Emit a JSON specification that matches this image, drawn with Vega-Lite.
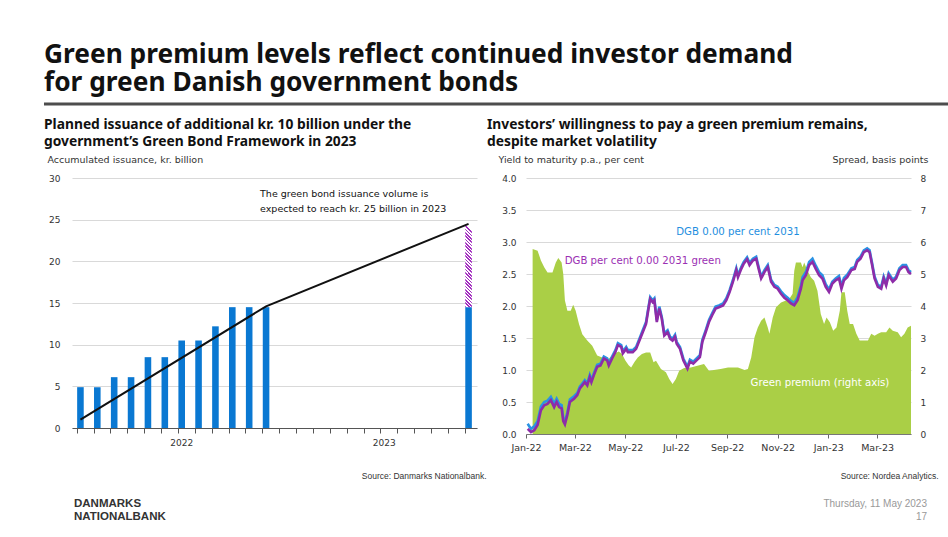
{
  "$schema": "https://vega.github.io/schema/vega-lite/v6.json",
  "background": "white",
  "padding": {"left": 42, "top": 41, "right": 0, "bottom": 0},
  "spacing": 11,
  "config": {
    "font": "DejaVu Sans",
    "view": {"stroke": null},
    "axis": {"labelFont": "DejaVu Sans", "labelColor": "#333", "titleFont": "DejaVu Sans", "titleColor": "#333", "titleFontWeight": "normal"},
    "title": {"font": "Noto Sans", "color": "#111"}
  },
  "vconcat": [
    {
      "width": 878,
      "height": 1,
      "title": {
        "text": ["Green premium levels reflect continued investor demand", "for green Danish government bonds"],
        "anchor": "start", "frame": "group", "dx": -28, "fontSize": 26.3, "fontWeight": "bold", "lineHeight": 28.5, "offset": 6
      },
      "data": {"values": [{}]},
      "mark": {"type": "rule", "color": "#4d4d4d", "strokeWidth": 3},
      "encoding": {
        "x": {"datum": -0.0319, "scale": {"domain": [0, 1]}, "axis": null},
        "x2": {"datum": 1},
        "y": {"datum": 0, "scale": {"domain": [0, 1]}, "axis": null}
      }
    },
    {
      "spacing": 1,
      "hconcat": [
        {
          "width": 405,
          "height": 250,
          "title": {
            "text": ["Planned issuance of additional kr. 10 billion under the", "government’s Green Bond Framework in 2023"],
            "anchor": "start", "fontSize": 13.8, "fontWeight": "bold", "lineHeight": 17.5, "offset": 5, "dx": -3
          },
          "encoding": {
            "x": {
              "field": "m", "type": "ordinal",
              "scale": {
                "type": "band",
                "domain": ["2022-01","2022-02","2022-03","2022-04","2022-05","2022-06","2022-07","2022-08","2022-09","2022-10","2022-11","2022-12",
                           "2023-01","2023-02","2023-03","2023-04","2023-05","2023-06","2023-07","2023-08","2023-09","2023-10","2023-11","2023-12"],
                "paddingInner": 0.61, "paddingOuter": 0.305
              },
              "axis": {
                "title": "Source: Danmarks Nationalbank.", "titleFont": "Liberation Sans", "titleFontSize": 8.5,
                "titleAlign": "right", "titleAnchor": null, "titleX": 414, "titleY": 50, "titleBaseline": "alphabetic",
                "bandPosition": 0,
                "labelExpr": "datum.value == '2022-07' ? '2022' : datum.value == '2023-07' ? '2023' : ''",
                "labelOverlap": false, "labelAngle": 0, "labelFontSize": 9, "labelPadding": 5,
                "tickSize": 5, "tickColor": "#555", "domainColor": "#555", "grid": false
              }
            }
          },
          "layer": [
            {
              "data": {"values": [
                {"m": "2022-01", "v": 4.9}, {"m": "2022-02", "v": 4.9}, {"m": "2022-03", "v": 6.1},
                {"m": "2022-04", "v": 6.1}, {"m": "2022-05", "v": 8.5}, {"m": "2022-06", "v": 8.5},
                {"m": "2022-07", "v": 10.5}, {"m": "2022-08", "v": 10.5}, {"m": "2022-09", "v": 12.2},
                {"m": "2022-10", "v": 14.5}, {"m": "2022-11", "v": 14.5}, {"m": "2022-12", "v": 14.5},
                {"m": "2023-12", "v": 14.5}
              ]},
              "mark": {"type": "bar", "color": "#0A78D2"},
              "encoding": {
                "y": {
                  "field": "v", "type": "quantitative", "scale": {"domain": [0, 30]},
                  "axis": {
                    "title": "Accumulated issuance, kr. billion", "titleAngle": 0, "titleAlign": "left",
                    "titleX": -25, "titleY": -16, "titleBaseline": "alphabetic", "titleFontSize": 9.5,
                    "values": [0, 5, 10, 15, 20, 25, 30], "grid": true, "gridColor": "#d9d9d9", "gridWidth": 1.2,
                    "domain": false, "ticks": false, "labelPadding": 12, "labelFontSize": 9
                  }
                }
              }
            },
            {
              "data": {"values": [{"m": "2023-12", "from": 14.5, "to": 24.5}]},
              "mark": {
                "type": "bar",
                "fill": {
                  "gradient": "linear", "x1": 0, "y1": 1, "x2": 0.079, "y2": 0,
                  "stops": [
                    {"offset": 0, "color": "#A22CC0"}, {"offset": 0.02, "color": "#A22CC0"}, {"offset": 0.02, "color": "#ffffff"}, {"offset": 0.04, "color": "#ffffff"},
                    {"offset": 0.04, "color": "#A22CC0"}, {"offset": 0.06, "color": "#A22CC0"}, {"offset": 0.06, "color": "#ffffff"}, {"offset": 0.08, "color": "#ffffff"},
                    {"offset": 0.08, "color": "#A22CC0"}, {"offset": 0.10, "color": "#A22CC0"}, {"offset": 0.10, "color": "#ffffff"}, {"offset": 0.12, "color": "#ffffff"},
                    {"offset": 0.12, "color": "#A22CC0"}, {"offset": 0.14, "color": "#A22CC0"}, {"offset": 0.14, "color": "#ffffff"}, {"offset": 0.16, "color": "#ffffff"},
                    {"offset": 0.16, "color": "#A22CC0"}, {"offset": 0.18, "color": "#A22CC0"}, {"offset": 0.18, "color": "#ffffff"}, {"offset": 0.20, "color": "#ffffff"},
                    {"offset": 0.20, "color": "#A22CC0"}, {"offset": 0.22, "color": "#A22CC0"}, {"offset": 0.22, "color": "#ffffff"}, {"offset": 0.24, "color": "#ffffff"},
                    {"offset": 0.24, "color": "#A22CC0"}, {"offset": 0.26, "color": "#A22CC0"}, {"offset": 0.26, "color": "#ffffff"}, {"offset": 0.28, "color": "#ffffff"},
                    {"offset": 0.28, "color": "#A22CC0"}, {"offset": 0.30, "color": "#A22CC0"}, {"offset": 0.30, "color": "#ffffff"}, {"offset": 0.32, "color": "#ffffff"},
                    {"offset": 0.32, "color": "#A22CC0"}, {"offset": 0.34, "color": "#A22CC0"}, {"offset": 0.34, "color": "#ffffff"}, {"offset": 0.36, "color": "#ffffff"},
                    {"offset": 0.36, "color": "#A22CC0"}, {"offset": 0.38, "color": "#A22CC0"}, {"offset": 0.38, "color": "#ffffff"}, {"offset": 0.40, "color": "#ffffff"},
                    {"offset": 0.40, "color": "#A22CC0"}, {"offset": 0.42, "color": "#A22CC0"}, {"offset": 0.42, "color": "#ffffff"}, {"offset": 0.44, "color": "#ffffff"},
                    {"offset": 0.44, "color": "#A22CC0"}, {"offset": 0.46, "color": "#A22CC0"}, {"offset": 0.46, "color": "#ffffff"}, {"offset": 0.48, "color": "#ffffff"},
                    {"offset": 0.48, "color": "#A22CC0"}, {"offset": 0.50, "color": "#A22CC0"}, {"offset": 0.50, "color": "#ffffff"}, {"offset": 0.52, "color": "#ffffff"},
                    {"offset": 0.52, "color": "#A22CC0"}, {"offset": 0.54, "color": "#A22CC0"}, {"offset": 0.54, "color": "#ffffff"}, {"offset": 0.56, "color": "#ffffff"},
                    {"offset": 0.56, "color": "#A22CC0"}, {"offset": 0.58, "color": "#A22CC0"}, {"offset": 0.58, "color": "#ffffff"}, {"offset": 0.60, "color": "#ffffff"},
                    {"offset": 0.60, "color": "#A22CC0"}, {"offset": 0.62, "color": "#A22CC0"}, {"offset": 0.62, "color": "#ffffff"}, {"offset": 0.64, "color": "#ffffff"},
                    {"offset": 0.64, "color": "#A22CC0"}, {"offset": 0.66, "color": "#A22CC0"}, {"offset": 0.66, "color": "#ffffff"}, {"offset": 0.68, "color": "#ffffff"},
                    {"offset": 0.68, "color": "#A22CC0"}, {"offset": 0.70, "color": "#A22CC0"}, {"offset": 0.70, "color": "#ffffff"}, {"offset": 0.72, "color": "#ffffff"},
                    {"offset": 0.72, "color": "#A22CC0"}, {"offset": 0.74, "color": "#A22CC0"}, {"offset": 0.74, "color": "#ffffff"}, {"offset": 0.76, "color": "#ffffff"},
                    {"offset": 0.76, "color": "#A22CC0"}, {"offset": 0.78, "color": "#A22CC0"}, {"offset": 0.78, "color": "#ffffff"}, {"offset": 0.80, "color": "#ffffff"},
                    {"offset": 0.80, "color": "#A22CC0"}, {"offset": 0.82, "color": "#A22CC0"}, {"offset": 0.82, "color": "#ffffff"}, {"offset": 0.84, "color": "#ffffff"},
                    {"offset": 0.84, "color": "#A22CC0"}, {"offset": 0.86, "color": "#A22CC0"}, {"offset": 0.86, "color": "#ffffff"}, {"offset": 0.88, "color": "#ffffff"},
                    {"offset": 0.88, "color": "#A22CC0"}, {"offset": 0.90, "color": "#A22CC0"}, {"offset": 0.90, "color": "#ffffff"}, {"offset": 0.92, "color": "#ffffff"},
                    {"offset": 0.92, "color": "#A22CC0"}, {"offset": 0.94, "color": "#A22CC0"}, {"offset": 0.94, "color": "#ffffff"}, {"offset": 0.96, "color": "#ffffff"},
                    {"offset": 0.96, "color": "#A22CC0"}, {"offset": 0.98, "color": "#A22CC0"}, {"offset": 0.98, "color": "#ffffff"}, {"offset": 1, "color": "#ffffff"}
                  ]
                }
              },
              "encoding": {
                "y": {"field": "from", "type": "quantitative"},
                "y2": {"field": "to"}
              }
            },
            {
              "data": {"values": [
                {"m": "2022-01", "v": 1.0}, {"m": "2022-12", "v": 14.6}, {"m": "2023-12", "v": 24.5}
              ]},
              "mark": {"type": "line", "color": "#111", "strokeWidth": 2},
              "encoding": {"y": {"field": "v", "type": "quantitative"}}
            },
            {
              "data": {"values": [
                {"m": "2022-12", "v": 28.7, "t": "The green bond issuance volume is"},
                {"m": "2022-12", "v": 26.9, "t": "expected to reach kr. 25 billion in 2023"}
              ]},
              "mark": {"type": "text", "align": "left", "baseline": "top", "dx": -6, "fontSize": 9.5, "color": "#111"},
              "encoding": {
                "y": {"field": "v", "type": "quantitative"},
                "text": {"field": "t"}
              }
            }
          ]
        },
        {
          "width": 385,
          "height": 256,
          "title": {
            "text": ["Investors’ willingness to pay a green premium remains,", "despite market volatility"],
            "anchor": "start", "fontSize": 13.8, "fontWeight": "bold", "lineHeight": 17.5, "offset": 5, "dx": -11
          },
          "resolve": {"scale": {"y": "independent"}},
          "encoding": {
            "x": {
              "field": "d", "type": "temporal",
              "scale": {"type": "utc", "domain": [{"year": 2022, "month": 1, "date": 1, "utc": true}, {"year": 2023, "month": 4, "date": 11, "utc": true}]},
              "axis": {
                "format": "%b-%y", "tickCount": {"interval": "month", "step": 2},
                "title": "Source: Nordea Analytics.", "titleFont": "Liberation Sans", "titleFontSize": 8.5,
                "titleAlign": "right", "titleAnchor": null, "titleX": 412, "titleY": 44, "titleBaseline": "alphabetic",
                "labelFontSize": 9.5, "labelPadding": 4, "labelOverlap": false, "labelFlush": false,
                "tickSize": 4, "tickColor": "#666", "domainColor": "#777", "grid": false
              }
            }
          },
          "layer": [
            {
              "data": {"values": [
                {"d": "2022-01-09", "bp": 5.78}, {"d": "2022-01-15", "bp": 5.73}, {"d": "2022-01-19", "bp": 5.42},
                {"d": "2022-01-23", "bp": 5.21}, {"d": "2022-01-27", "bp": 5.05}, {"d": "2022-02-02", "bp": 5.05},
                {"d": "2022-02-06", "bp": 5.36}, {"d": "2022-02-09", "bp": 5.5}, {"d": "2022-02-13", "bp": 5.36},
                {"d": "2022-02-15", "bp": 5.0}, {"d": "2022-02-17", "bp": 4.17}, {"d": "2022-02-20", "bp": 3.85},
                {"d": "2022-02-24", "bp": 3.85}, {"d": "2022-02-27", "bp": 4.04}, {"d": "2022-03-02", "bp": 3.85},
                {"d": "2022-03-06", "bp": 3.44}, {"d": "2022-03-10", "bp": 3.12}, {"d": "2022-03-16", "bp": 2.92},
                {"d": "2022-03-22", "bp": 2.76}, {"d": "2022-03-28", "bp": 2.45}, {"d": "2022-04-03", "bp": 2.39},
                {"d": "2022-04-11", "bp": 2.35}, {"d": "2022-04-17", "bp": 2.5}, {"d": "2022-04-23", "bp": 2.58},
                {"d": "2022-04-27", "bp": 2.5}, {"d": "2022-05-01", "bp": 2.3}, {"d": "2022-05-05", "bp": 2.15},
                {"d": "2022-05-08", "bp": 2.08}, {"d": "2022-05-12", "bp": 2.25}, {"d": "2022-05-16", "bp": 2.39},
                {"d": "2022-05-21", "bp": 2.5}, {"d": "2022-05-26", "bp": 2.55}, {"d": "2022-05-31", "bp": 2.55},
                {"d": "2022-06-04", "bp": 2.24}, {"d": "2022-06-07", "bp": 2.29}, {"d": "2022-06-13", "bp": 2.03},
                {"d": "2022-06-19", "bp": 1.93}, {"d": "2022-06-23", "bp": 1.72}, {"d": "2022-06-27", "bp": 1.56},
                {"d": "2022-07-01", "bp": 1.72}, {"d": "2022-07-05", "bp": 1.98}, {"d": "2022-07-11", "bp": 2.06},
                {"d": "2022-07-19", "bp": 2.08}, {"d": "2022-07-27", "bp": 2.13}, {"d": "2022-08-04", "bp": 2.19},
                {"d": "2022-08-10", "bp": 1.98}, {"d": "2022-08-16", "bp": 2.0}, {"d": "2022-08-24", "bp": 2.03},
                {"d": "2022-09-02", "bp": 2.08}, {"d": "2022-09-14", "bp": 2.08}, {"d": "2022-09-22", "bp": 2.0},
                {"d": "2022-09-26", "bp": 2.03}, {"d": "2022-09-30", "bp": 2.39}, {"d": "2022-10-04", "bp": 3.02},
                {"d": "2022-10-08", "bp": 3.33}, {"d": "2022-10-12", "bp": 3.54}, {"d": "2022-10-16", "bp": 3.64},
                {"d": "2022-10-20", "bp": 3.33}, {"d": "2022-10-22", "bp": 3.13}, {"d": "2022-10-26", "bp": 3.64},
                {"d": "2022-10-30", "bp": 3.96}, {"d": "2022-11-05", "bp": 4.11}, {"d": "2022-11-11", "bp": 4.17},
                {"d": "2022-11-15", "bp": 4.22}, {"d": "2022-11-19", "bp": 4.38}, {"d": "2022-11-21", "bp": 5.1},
                {"d": "2022-11-23", "bp": 5.36}, {"d": "2022-11-29", "bp": 5.36}, {"d": "2022-12-01", "bp": 5.21},
                {"d": "2022-12-03", "bp": 5.36}, {"d": "2022-12-07", "bp": 5.1}, {"d": "2022-12-11", "bp": 4.9},
                {"d": "2022-12-15", "bp": 4.79}, {"d": "2022-12-19", "bp": 4.48}, {"d": "2022-12-23", "bp": 3.75},
                {"d": "2022-12-27", "bp": 3.44}, {"d": "2022-12-30", "bp": 3.64}, {"d": "2023-01-03", "bp": 3.49},
                {"d": "2023-01-07", "bp": 3.23}, {"d": "2023-01-11", "bp": 3.33}, {"d": "2023-01-15", "bp": 3.85},
                {"d": "2023-01-17", "bp": 4.43}, {"d": "2023-01-21", "bp": 4.43}, {"d": "2023-01-24", "bp": 3.85},
                {"d": "2023-01-27", "bp": 3.44}, {"d": "2023-01-31", "bp": 3.44}, {"d": "2023-02-04", "bp": 3.13},
                {"d": "2023-02-08", "bp": 2.92}, {"d": "2023-02-18", "bp": 2.92}, {"d": "2023-02-22", "bp": 3.13},
                {"d": "2023-02-26", "bp": 3.07}, {"d": "2023-03-02", "bp": 3.13}, {"d": "2023-03-06", "bp": 3.18},
                {"d": "2023-03-12", "bp": 3.18}, {"d": "2023-03-16", "bp": 3.33}, {"d": "2023-03-20", "bp": 3.23},
                {"d": "2023-03-26", "bp": 3.18}, {"d": "2023-03-30", "bp": 3.02}, {"d": "2023-04-03", "bp": 3.13},
                {"d": "2023-04-07", "bp": 3.33}, {"d": "2023-04-11", "bp": 3.38}
              ]},
              "mark": {"type": "area", "color": "#AACF46", "opacity": 1},
              "encoding": {
                "y": {
                  "field": "bp", "type": "quantitative", "scale": {"domain": [0, 8]},
                  "axis": {
                    "orient": "right", "title": "Spread, basis points", "titleAngle": 0, "titleAlign": "right",
                    "titleX": 17, "titleY": -16, "titleBaseline": "alphabetic", "titleFontSize": 9.5,
                    "values": [0, 1, 2, 3, 4, 5, 6, 7, 8], "format": "d", "grid": false, "domain": false,
                    "ticks": false, "labelPadding": 9, "labelFontSize": 9
                  }
                }
              }
            },
            {
              "data": {"values": [
                {"d": "2022-01-03", "green": 0.08, "dgb": 0.16}, {"d": "2022-01-07", "green": 0.03, "dgb": 0.08},
                {"d": "2022-01-11", "green": 0.06, "dgb": 0.12}, {"d": "2022-01-15", "green": 0.14, "dgb": 0.2},
                {"d": "2022-01-19", "green": 0.37, "dgb": 0.43}, {"d": "2022-01-23", "green": 0.45, "dgb": 0.5},
                {"d": "2022-01-27", "green": 0.47, "dgb": 0.52}, {"d": "2022-01-31", "green": 0.53, "dgb": 0.58},
                {"d": "2022-02-04", "green": 0.42, "dgb": 0.47}, {"d": "2022-02-07", "green": 0.5, "dgb": 0.55},
                {"d": "2022-02-10", "green": 0.42, "dgb": 0.47}, {"d": "2022-02-13", "green": 0.4, "dgb": 0.45},
                {"d": "2022-02-15", "green": 0.2, "dgb": 0.25}, {"d": "2022-02-17", "green": 0.15, "dgb": 0.19},
                {"d": "2022-02-20", "green": 0.3, "dgb": 0.34}, {"d": "2022-02-23", "green": 0.5, "dgb": 0.54},
                {"d": "2022-02-28", "green": 0.55, "dgb": 0.59}, {"d": "2022-03-04", "green": 0.61, "dgb": 0.64},
                {"d": "2022-03-07", "green": 0.71, "dgb": 0.74}, {"d": "2022-03-10", "green": 0.76, "dgb": 0.79},
                {"d": "2022-03-13", "green": 0.81, "dgb": 0.84}, {"d": "2022-03-16", "green": 0.76, "dgb": 0.79},
                {"d": "2022-03-19", "green": 0.89, "dgb": 0.92}, {"d": "2022-03-21", "green": 0.81, "dgb": 0.84},
                {"d": "2022-03-24", "green": 0.92, "dgb": 0.95}, {"d": "2022-03-28", "green": 1.05, "dgb": 1.08},
                {"d": "2022-04-01", "green": 1.07, "dgb": 1.1}, {"d": "2022-04-05", "green": 1.18, "dgb": 1.21},
                {"d": "2022-04-09", "green": 1.15, "dgb": 1.18}, {"d": "2022-04-11", "green": 1.07, "dgb": 1.1},
                {"d": "2022-04-15", "green": 1.18, "dgb": 1.21}, {"d": "2022-04-19", "green": 1.28, "dgb": 1.31},
                {"d": "2022-04-22", "green": 1.39, "dgb": 1.42}, {"d": "2022-04-26", "green": 1.36, "dgb": 1.39},
                {"d": "2022-04-28", "green": 1.26, "dgb": 1.29}, {"d": "2022-05-02", "green": 1.33, "dgb": 1.36},
                {"d": "2022-05-04", "green": 1.28, "dgb": 1.31}, {"d": "2022-05-10", "green": 1.28, "dgb": 1.31},
                {"d": "2022-05-14", "green": 1.33, "dgb": 1.36}, {"d": "2022-05-18", "green": 1.46, "dgb": 1.49},
                {"d": "2022-05-22", "green": 1.59, "dgb": 1.62}, {"d": "2022-05-26", "green": 1.72, "dgb": 1.75},
                {"d": "2022-05-29", "green": 1.96, "dgb": 1.99}, {"d": "2022-05-31", "green": 2.11, "dgb": 2.14},
                {"d": "2022-06-03", "green": 2.06, "dgb": 2.09}, {"d": "2022-06-05", "green": 2.09, "dgb": 2.12},
                {"d": "2022-06-08", "green": 1.75, "dgb": 1.78}, {"d": "2022-06-11", "green": 1.96, "dgb": 1.99},
                {"d": "2022-06-14", "green": 1.8, "dgb": 1.83}, {"d": "2022-06-17", "green": 1.54, "dgb": 1.57},
                {"d": "2022-06-21", "green": 1.59, "dgb": 1.62}, {"d": "2022-06-24", "green": 1.49, "dgb": 1.52},
                {"d": "2022-06-27", "green": 1.46, "dgb": 1.49}, {"d": "2022-06-30", "green": 1.52, "dgb": 1.55},
                {"d": "2022-07-02", "green": 1.41, "dgb": 1.44}, {"d": "2022-07-06", "green": 1.33, "dgb": 1.36},
                {"d": "2022-07-10", "green": 1.15, "dgb": 1.18}, {"d": "2022-07-15", "green": 1.02, "dgb": 1.05},
                {"d": "2022-07-18", "green": 1.13, "dgb": 1.16}, {"d": "2022-07-22", "green": 1.1, "dgb": 1.13},
                {"d": "2022-07-26", "green": 1.15, "dgb": 1.18}, {"d": "2022-07-30", "green": 1.2, "dgb": 1.23},
                {"d": "2022-08-02", "green": 1.44, "dgb": 1.47}, {"d": "2022-08-06", "green": 1.59, "dgb": 1.62},
                {"d": "2022-08-10", "green": 1.75, "dgb": 1.78}, {"d": "2022-08-14", "green": 1.86, "dgb": 1.89},
                {"d": "2022-08-18", "green": 1.96, "dgb": 1.99}, {"d": "2022-08-22", "green": 1.98, "dgb": 2.01},
                {"d": "2022-08-27", "green": 2.01, "dgb": 2.04}, {"d": "2022-08-31", "green": 2.09, "dgb": 2.12},
                {"d": "2022-09-04", "green": 2.22, "dgb": 2.25}, {"d": "2022-09-08", "green": 2.38, "dgb": 2.41},
                {"d": "2022-09-12", "green": 2.56, "dgb": 2.59}, {"d": "2022-09-14", "green": 2.45, "dgb": 2.48},
                {"d": "2022-09-18", "green": 2.58, "dgb": 2.61}, {"d": "2022-09-21", "green": 2.66, "dgb": 2.69},
                {"d": "2022-09-25", "green": 2.73, "dgb": 2.76}, {"d": "2022-09-28", "green": 2.64, "dgb": 2.67},
                {"d": "2022-10-02", "green": 2.71, "dgb": 2.74}, {"d": "2022-10-06", "green": 2.74, "dgb": 2.77},
                {"d": "2022-10-09", "green": 2.58, "dgb": 2.61}, {"d": "2022-10-12", "green": 2.43, "dgb": 2.46},
                {"d": "2022-10-16", "green": 2.53, "dgb": 2.56}, {"d": "2022-10-20", "green": 2.61, "dgb": 2.64},
                {"d": "2022-10-24", "green": 2.38, "dgb": 2.41}, {"d": "2022-10-28", "green": 2.3, "dgb": 2.33},
                {"d": "2022-11-01", "green": 2.27, "dgb": 2.3}, {"d": "2022-11-05", "green": 2.19, "dgb": 2.23},
                {"d": "2022-11-09", "green": 2.13, "dgb": 2.17}, {"d": "2022-11-13", "green": 2.09, "dgb": 2.13},
                {"d": "2022-11-17", "green": 2.04, "dgb": 2.08}, {"d": "2022-11-21", "green": 2.01, "dgb": 2.05},
                {"d": "2022-11-25", "green": 2.09, "dgb": 2.14}, {"d": "2022-11-29", "green": 2.27, "dgb": 2.32},
                {"d": "2022-12-01", "green": 2.4, "dgb": 2.45}, {"d": "2022-12-05", "green": 2.48, "dgb": 2.53},
                {"d": "2022-12-09", "green": 2.64, "dgb": 2.69}, {"d": "2022-12-13", "green": 2.69, "dgb": 2.74},
                {"d": "2022-12-17", "green": 2.58, "dgb": 2.63}, {"d": "2022-12-21", "green": 2.48, "dgb": 2.53},
                {"d": "2022-12-25", "green": 2.43, "dgb": 2.48}, {"d": "2022-12-29", "green": 2.3, "dgb": 2.34},
                {"d": "2023-01-02", "green": 2.22, "dgb": 2.26}, {"d": "2023-01-06", "green": 2.35, "dgb": 2.38},
                {"d": "2023-01-10", "green": 2.4, "dgb": 2.43}, {"d": "2023-01-14", "green": 2.43, "dgb": 2.47},
                {"d": "2023-01-17", "green": 2.27, "dgb": 2.31}, {"d": "2023-01-20", "green": 2.4, "dgb": 2.44},
                {"d": "2023-01-24", "green": 2.45, "dgb": 2.49}, {"d": "2023-01-29", "green": 2.56, "dgb": 2.59},
                {"d": "2023-02-02", "green": 2.58, "dgb": 2.61}, {"d": "2023-02-05", "green": 2.69, "dgb": 2.72},
                {"d": "2023-02-09", "green": 2.74, "dgb": 2.77}, {"d": "2023-02-13", "green": 2.84, "dgb": 2.87},
                {"d": "2023-02-17", "green": 2.87, "dgb": 2.9}, {"d": "2023-02-20", "green": 2.84, "dgb": 2.87},
                {"d": "2023-02-23", "green": 2.64, "dgb": 2.67}, {"d": "2023-02-26", "green": 2.43, "dgb": 2.46},
                {"d": "2023-03-02", "green": 2.3, "dgb": 2.33}, {"d": "2023-03-06", "green": 2.27, "dgb": 2.3},
                {"d": "2023-03-09", "green": 2.43, "dgb": 2.46}, {"d": "2023-03-12", "green": 2.32, "dgb": 2.35},
                {"d": "2023-03-15", "green": 2.48, "dgb": 2.51}, {"d": "2023-03-20", "green": 2.38, "dgb": 2.41},
                {"d": "2023-03-24", "green": 2.43, "dgb": 2.46}, {"d": "2023-03-28", "green": 2.56, "dgb": 2.59},
                {"d": "2023-04-01", "green": 2.61, "dgb": 2.64}, {"d": "2023-04-05", "green": 2.61, "dgb": 2.64},
                {"d": "2023-04-08", "green": 2.53, "dgb": 2.56}, {"d": "2023-04-11", "green": 2.5, "dgb": 2.53}
              ]},
              "layer": [
                {
                  "mark": {"type": "line", "color": "#2A93E4", "strokeWidth": 2.6},
                  "encoding": {
                    "y": {
                      "field": "dgb", "type": "quantitative", "scale": {"domain": [0, 4]},
                      "axis": {
                        "title": "Yield to maturity p.a., per cent", "titleAngle": 0, "titleAlign": "left",
                        "titleX": -28, "titleY": -16, "titleBaseline": "alphabetic", "titleFontSize": 9.5,
                        "values": [0, 0.5, 1, 1.5, 2, 2.5, 3, 3.5, 4], "format": ".1f", "labelOverlap": false,
                        "grid": true, "gridColor": "#d9d9d9", "gridWidth": 1.2,
                        "domain": false, "ticks": false, "labelPadding": 10, "labelFontSize": 9
                      }
                    }
                  }
                },
                {
                  "mark": {"type": "line", "color": "#8E2CA8", "strokeWidth": 2.6},
                  "encoding": {
                    "y": {
                      "field": "green", "type": "quantitative",
                      "axis": {
                        "title": "Yield to maturity p.a., per cent", "titleAngle": 0, "titleAlign": "left",
                        "titleX": -28, "titleY": -16, "titleBaseline": "alphabetic", "titleFontSize": 9.5,
                        "values": [0, 0.5, 1, 1.5, 2, 2.5, 3, 3.5, 4], "format": ".1f", "labelOverlap": false,
                        "grid": true, "gridColor": "#d9d9d9", "gridWidth": 1.2,
                        "domain": false, "ticks": false, "labelPadding": 10, "labelFontSize": 9
                      }
                    }
                  }
                },
                {
                  "data": {"values": [
                    {"d": "2022-09-14", "y": 3.16, "t": "DGB 0.00 per cent 2031", "s": "dgb"},
                    {"d": "2022-05-22", "y": 2.7, "t": "DGB per cent 0.00 2031 green", "s": "green"},
                    {"d": "2022-12-22", "y": 0.79, "t": "Green premium (right axis)", "s": "premium"}
                  ]},
                  "mark": {"type": "text", "fontSize": 10.2},
                  "encoding": {
                    "y": {
                      "field": "y", "type": "quantitative",
                      "axis": {
                        "title": "Yield to maturity p.a., per cent", "titleAngle": 0, "titleAlign": "left",
                        "titleX": -28, "titleY": -16, "titleBaseline": "alphabetic", "titleFontSize": 9.5,
                        "values": [0, 0.5, 1, 1.5, 2, 2.5, 3, 3.5, 4], "format": ".1f", "labelOverlap": false,
                        "grid": true, "gridColor": "#d9d9d9", "gridWidth": 1.2,
                        "domain": false, "ticks": false, "labelPadding": 10, "labelFontSize": 9
                      }
                    },
                    "text": {"field": "t"},
                    "color": {
                      "field": "s", "type": "nominal", "legend": null,
                      "scale": {"domain": ["dgb", "green", "premium"], "range": ["#1F8FE0", "#9B2FB3", "#ffffff"]}
                    }
                  }
                }
              ]
            }
          ]
        }
      ]
    },
    {
      "width": 855,
      "height": 39,
      "data": {"values": [
        {"t": "DANMARKS", "side": "left", "row": 1},
        {"t": "NATIONALBANK", "side": "left", "row": 2},
        {"t": "Thursday, 11 May 2023", "side": "right", "row": 1},
        {"t": "17", "side": "right", "row": 2}
      ]},
      "encoding": {
        "x": {"field": "side", "type": "nominal", "scale": {"type": "point", "domain": ["left", "right"], "padding": 0}, "axis": null},
        "y": {"field": "row", "type": "ordinal", "scale": {"type": "point", "domain": [1, 2], "padding": 1}, "axis": null},
        "text": {"field": "t"}
      },
      "layer": [
        {
          "transform": [{"filter": "datum.side === 'left'"}],
          "mark": {"type": "text", "align": "left", "dx": 2, "font": "Liberation Sans", "fontWeight": "bold", "fontSize": 11.5, "color": "#333"}
        },
        {
          "transform": [{"filter": "datum.side === 'right'"}],
          "mark": {"type": "text", "align": "right", "font": "Liberation Sans", "fontSize": 10, "color": "#999"}
        }
      ]
    }
  ]
}
